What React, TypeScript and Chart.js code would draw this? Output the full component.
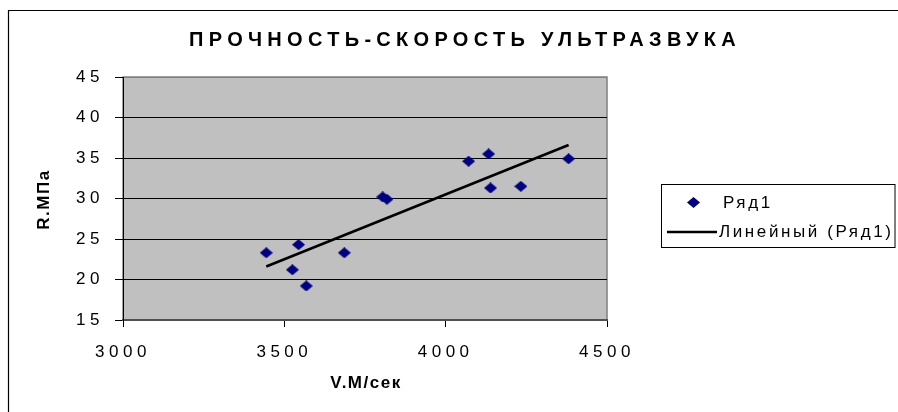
import React, { useEffect, useRef } from 'react';
import { Chart, registerables } from 'chart.js';

Chart.register(...registerables);

const chartTitle = 'ПРОЧНОСТЬ-СКОРОСТЬ УЛЬТРАЗВУКА';
const xAxisTitle = 'V.М/сек';
const yAxisTitle = 'R.МПа';
const seriesName = 'Ряд1';
const trendName = 'Линейный (Ряд1)';

const speedValues = [3444, 3525, 3544, 3568, 3686, 3805, 3818, 4071, 4133, 4139, 4233, 4381];
const strengthValues = [23.3, 21.2, 24.3, 19.2, 23.3, 30.2, 29.9, 34.6, 35.5, 31.3, 31.5, 34.9];

const trendSpeed = [3444, 4381];
const trendStrength = [21.6, 36.6];

const xTicks = [3000, 3500, 4000, 4500];
const yTicks = [15, 20, 25, 30, 35, 40, 45];

const FONT = "'Liberation Sans', Arial, sans-serif";
const MARKER = '#000080';

function makeDiamond(): HTMLCanvasElement {
  const c = document.createElement('canvas');
  c.width = 13;
  c.height = 11;
  const g = c.getContext('2d')!;
  g.fillStyle = MARKER;
  g.beginPath();
  g.moveTo(6.5, 0);
  g.lineTo(13, 5.5);
  g.lineTo(6.5, 11);
  g.lineTo(0, 5.5);
  g.closePath();
  g.fill();
  return c;
}

export default function App() {
  const ref = useRef<HTMLCanvasElement | null>(null);

  useEffect(() => {
    if (!ref.current) return;
    const diamond = makeDiamond();

    const framePlugin = {
      id: 'framePlugin',
      beforeDraw(chart: any) {
        const ctx = chart.ctx;
        const a = chart.chartArea;
        ctx.save();
        ctx.fillStyle = '#ffffff';
        ctx.fillRect(0, 0, chart.width, chart.height);
        // outer border
        ctx.strokeStyle = '#000';
        ctx.lineWidth = 1.2;
        ctx.beginPath();
        ctx.moveTo(8.5, chart.height + 2);
        ctx.lineTo(8.5, 10.5);
        ctx.lineTo(chart.width + 2, 10.5);
        ctx.stroke();
        // plot area
        ctx.fillStyle = '#C0C0C0';
        ctx.fillRect(a.left, a.top, a.right - a.left, a.bottom - a.top);
        ctx.strokeStyle = '#808080';
        ctx.lineWidth = 1.5;
        ctx.strokeRect(a.left, a.top, a.right - a.left, a.bottom - a.top);
        ctx.restore();
        ctx.letterSpacing = '4.5px';
      },
      afterDraw(chart: any) {
        const ctx = chart.ctx;
        const a = chart.chartArea;
        ctx.save();
        ctx.fillStyle = '#000';
        ctx.textBaseline = 'middle';
        // title
        ctx.letterSpacing = '5.3px';
        ctx.font = `bold 20px ${FONT}`;
        ctx.textAlign = 'center';
        ctx.fillText(chartTitle, 465, 40);
        // axis titles
        ctx.letterSpacing = '1.5px';
        ctx.font = `bold 17px ${FONT}`;
        ctx.fillText(xAxisTitle, (a.left + a.right) / 2 + 1, 383);
        ctx.save();
        ctx.translate(44, (a.top + a.bottom) / 2 + 1);
        ctx.rotate(-Math.PI / 2);
        ctx.fillText(yAxisTitle, 0, 0);
        ctx.restore();
        // legend
        ctx.letterSpacing = '2.6px';
        ctx.strokeStyle = '#000';
        ctx.lineWidth = 1;
        ctx.strokeRect(661.5, 184.5, 233.5, 63);
        ctx.drawImage(diamond, 687, 197);
        ctx.font = `17px ${FONT}`;
        ctx.textAlign = 'left';
        const ds = chart.data.datasets;
        ctx.fillText(ds[0].label, 723, 203);
        ctx.lineWidth = 2.5;
        ctx.beginPath();
        ctx.moveTo(667, 232);
        ctx.lineTo(717, 232);
        ctx.stroke();
        ctx.fillText(ds[1].label, 719, 232);
        ctx.restore();
        ctx.letterSpacing = '0px';
      },
    };

    const chart = new Chart(ref.current, {
      type: 'scatter',
      data: {
        datasets: [
          {
            label: seriesName,
            data: speedValues.map((x, i) => ({ x, y: strengthValues[i] })),
            pointStyle: diamond as any,
            pointRadius: 6,
            showLine: false,
            backgroundColor: MARKER,
            borderColor: MARKER,
            order: 2,
          },
          {
            label: trendName,
            data: trendSpeed.map((x, i) => ({ x, y: trendStrength[i] })),
            showLine: true,
            pointRadius: 0,
            borderColor: '#000000',
            borderWidth: 2.6,
            order: 1,
          },
        ],
      },
      options: {
        responsive: false,
        animation: false,
        events: [],
        layout: { padding: { left: 0, right: 291, top: 77, bottom: 0 } },
        plugins: {
          legend: { display: false },
          title: { display: false },
          tooltip: { enabled: false },
        },
        scales: {
          x: {
            type: 'linear',
            min: xTicks[0],
            max: xTicks[xTicks.length - 1],
            afterBuildTicks: (s: any) => {
              s.ticks = xTicks.map((v) => ({ value: v }));
            },
            afterFit: (s: any) => {
              s.height = 92;
            },
            grid: {
              drawOnChartArea: false,
              drawTicks: true,
              tickLength: 7,
              tickColor: '#000',
            },
            border: { display: true, color: '#505050', width: 2 },
            ticks: {
              padding: 15,
              color: '#000',
              font: { family: FONT, size: 17 },
              maxRotation: 0,
              callback: (v: any) => String(v),
            },
            title: { display: false },
          },
          y: {
            type: 'linear',
            min: yTicks[0],
            max: yTicks[yTicks.length - 1],
            afterBuildTicks: (s: any) => {
              s.ticks = yTicks.map((v) => ({ value: v }));
            },
            afterFit: (s: any) => {
              s.width = 123;
            },
            grid: {
              drawOnChartArea: true,
              drawTicks: true,
              tickLength: 8,
              tickColor: '#000',
              color: (c: any) =>
                c.tick && c.tick.value === yTicks[yTicks.length - 1]
                  ? '#808080'
                  : c.tick && c.tick.value === yTicks[0]
                  ? '#505050'
                  : '#000000',
              lineWidth: 1,
            },
            border: { display: true, color: '#000', width: 1 },
            ticks: {
              padding: 11,
              color: '#000',
              font: { family: FONT, size: 17 },
              callback: (v: any) => String(v),
            },
            title: { display: false },
          },
        },
      },
      plugins: [framePlugin],
    });

    return () => {
      chart.destroy();
    };
  }, []);

  return (
    <div style={{ position: 'absolute', left: 0, top: 0, width: 898, height: 412 }}>
      <canvas ref={ref} width={898} height={412} style={{ display: 'block' }} />
    </div>
  );
}
